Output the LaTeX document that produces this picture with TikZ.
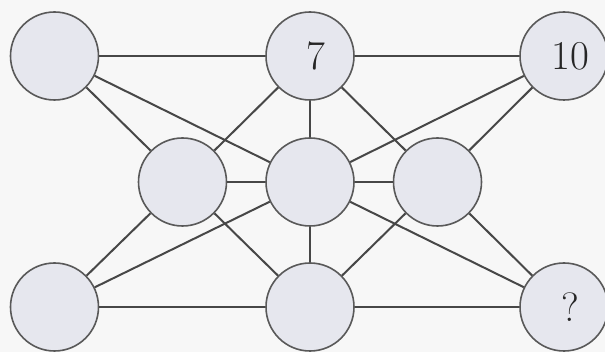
\documentclass[tikz,border=0pt]{standalone}
\begin{document}
\begin{tikzpicture}[x=1pt,y=-1pt,
  disc/.style={circle, draw=black!65, line width=1.6pt, fill=ballfill, minimum size=88pt, inner sep=0pt},
  edge/.style={draw=black!72, line width=2pt},
  num/.style={font=\fontsize{41}{41}\selectfont, text=black!85, xshift=6pt}]
\definecolor{ballfill}{HTML}{E6E7EE}
\fill[white!97!black] (0,0) rectangle (605,352);
\clip (0,0) rectangle (605,352);
\node[disc] (tl) at (54.5,56) {};
\node[disc] (tm) at (310,56) {};
\node[disc] (tr) at (564,56) {};
\node[disc] (ml) at (182.5,182) {};
\node[disc] (mc) at (310,182) {};
\node[disc] (mr) at (437.5,182) {};
\node[disc] (bl) at (54.5,307) {};
\node[disc] (bm) at (310,307) {};
\node[disc] (br) at (564,307) {};
\node[num] at (tm.center) {7};
\node[num] at (tr.center) {10};
\node[num] at (br.center) {?};
\draw[edge] (tl) -- (tm);
\draw[edge] (tm) -- (tr);
\draw[edge] (bl) -- (bm);
\draw[edge] (bm) -- (br);
\draw[edge] (tl) -- (ml);
\draw[edge] (tl) -- (mc);
\draw[edge] (tm) -- (ml);
\draw[edge] (tm) -- (mc);
\draw[edge] (tm) -- (mr);
\draw[edge] (tr) -- (mc);
\draw[edge] (tr) -- (mr);
\draw[edge] (ml) -- (mc);
\draw[edge] (mc) -- (mr);
\draw[edge] (bl) -- (ml);
\draw[edge] (bl) -- (mc);
\draw[edge] (bm) -- (ml);
\draw[edge] (bm) -- (mc);
\draw[edge] (bm) -- (mr);
\draw[edge] (br) -- (mc);
\draw[edge] (br) -- (mr);
\end{tikzpicture}
\end{document}
